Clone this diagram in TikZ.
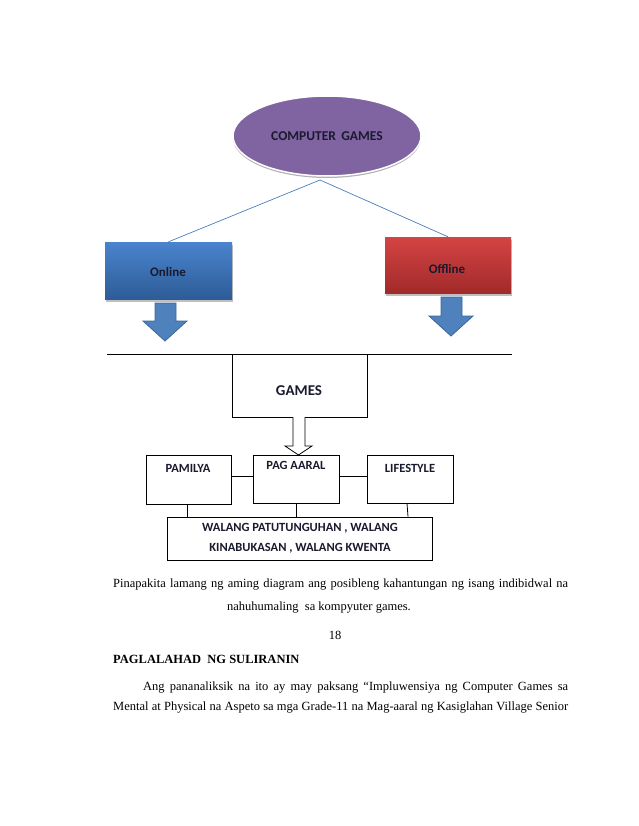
\documentclass[tikz,border=0pt]{standalone}
\usepackage{fontspec}
\setmainfont{Liberation Serif}
\newfontfamily\carl{Carlito}
\usetikzlibrary{shadows,calc,shapes.geometric}
\definecolor{cgpurple}{HTML}{8064A2}
\definecolor{ontop}{HTML}{4A84CE}
\definecolor{onbot}{HTML}{2D5C97}
\definecolor{offtop}{HTML}{D44444}
\definecolor{offbot}{HTML}{A22A2A}
\definecolor{arrfill}{HTML}{4F81BD}
\definecolor{arrline}{HTML}{3B6699}
\definecolor{linkblue}{HTML}{4A7EBB}
\definecolor{ink}{HTML}{1A1A2E}
\begin{document}
\begin{tikzpicture}[x=1pt,y=-1pt,
  lab/.style={font=\carl\bfseries\fontsize{12.5}{15}\selectfont, text=ink},
  sbox/.style={draw=black, line width=0.8pt, inner sep=0pt, fill=white},
  link/.style={draw=black, line width=0.8pt},
  bluelink/.style={draw=linkblue, line width=0.7pt},
  colbox/.style={inner sep=0pt, lab, font=\carl\bfseries\fontsize{13}{15}\selectfont,
     drop shadow={shadow xshift=0.5pt, shadow yshift=-2.5pt, opacity=0.25, fill=black}},
  downarrow/.style={fill=arrfill, draw=arrline, line width=0.8pt, line join=miter},
  body/.style={font=\fontsize{12.5}{15}\selectfont, inner sep=0pt}
]
\useasboundingbox (0,0) rectangle (638,826);

% top ellipse
\node[ellipse, minimum width=188pt, minimum height=80pt, fill=cgpurple, draw=white, line width=1.5pt,
      drop shadow={shadow xshift=0pt, shadow yshift=-2pt, opacity=0.3, fill=black},
      lab, font=\carl\bfseries\fontsize{13.5}{15}\selectfont] (cg) at (327,136) {COMPUTER\, GAMES};

% online / offline
\node[colbox, minimum width=127pt, minimum height=57pt, top color=ontop, bottom color=onbot] (online) at (168.5,270.5) {};
\node[lab, font=\carl\bfseries\fontsize{13}{15}\selectfont] (onlinetxt) at (168,272) {Online};
\node[colbox, minimum width=126pt, minimum height=56pt, top color=offtop, bottom color=offbot] (offline) at (448,265) {};
\node[lab, font=\carl\bfseries\fontsize{13}{15}\selectfont] (offlinetxt) at (447,269) {Offline};

\coordinate (cgb) at (320,180);
\draw[bluelink] (cgb) -- (online.north);
\draw[bluelink] (cgb) -- (offline.north);

% blue down arrows
\draw[downarrow] (143,321) -- (155,321) -- (155,303) -- (176,303) -- (176,321) -- (187,321) -- (165,341) -- cycle;
\draw[downarrow] (429,316) -- (441,316) -- (441,297) -- (462,297) -- (462,316) -- (473,316) -- (451,336) -- cycle;

% horizontal line
\coordinate (hl1) at (107,354);
\coordinate (hl2) at (512,354);
\draw[link] (hl1) -- (hl2);

% GAMES box
\node[sbox, minimum width=135pt, minimum height=63pt] (games) at (299.5,385.5) {};
\node[lab, font=\carl\bfseries\fontsize{15}{17}\selectfont] (gamestxt) at (299,391) {GAMES};

% hollow arrow
\draw[link, fill=white, line join=miter] (293,417) -- (293,446) -- (285,446) -- (298.5,455) -- (312,446) -- (305,446) -- (305,417);

% three boxes
\node[sbox, minimum width=85pt, minimum height=49pt] (pam) at (188.5,479.5) {};
\node[lab] (pamtxt) at (188,468) {PAMILYA};
\node[sbox, minimum width=86pt, minimum height=48pt] (pag) at (296,479) {};
\node[lab] (pagtxt) at (296,465.5) {PAG AARAL};
\node[sbox, minimum width=86pt, minimum height=48pt] (life) at (410,479) {};
\node[lab] (lifetxt) at (410,468) {LIFESTYLE};

\draw[link] ($(pam.east)+(0,-3.5)$) -- ($(pag.west)+(0,-3)$);
\draw[link] ($(pag.east)+(0,-3)$) -- ($(life.west)+(0,-3)$);

% bottom box
\node[sbox, minimum width=265pt, minimum height=43pt] (bot) at (299.5,538.5) {};
\node[lab, align=center, font=\carl\bfseries\fontsize{12.5}{20}\selectfont] (bottxt) at (300,538.5)
  {WALANG PATUTUNGUHAN , WALANG\\KINABUKASAN , WALANG KWENTA};

\coordinate (pamb) at ($(pam.south)+(-1.5,0)$);
\coordinate (lifeb) at ($(life.south)+(-3,0)$);
\coordinate (lifec) at ($(life.south)+(-2,0)$);
\draw[link] (pamb) -- (pamb |- bot.north);
\draw[link] (pag.south) -- (pag.south |- bot.north);
\draw[link] (lifeb) -- (lifec |- bot.north);

% body text
\node[body, anchor=base west] (p1) at (113,587)
  {\makebox[455pt][s]{Pinapakita lamang ng aming diagram ang posibleng kahantungan ng isang indibidwal na}};
\node[body, anchor=base] (p2) at (319,610) {nahuhumaling\ \ sa kompyuter games.};
\node[body, anchor=base] (pnum) at (335,639) {18};
\node[body, anchor=base west, font=\bfseries\fontsize{12.5}{15}\selectfont] (head) at (113,663) {PAGLALAHAD\ \ NG SULIRANIN};
\node[body, anchor=base west] (p3) at (143,690)
  {\makebox[425pt][s]{Ang pananaliksik na ito ay may paksang “Impluwensiya ng Computer Games sa}};
\node[body, anchor=base west] (p4) at (113,710)
  {\makebox[455pt][s]{Mental at Physical na Aspeto sa mga Grade-11 na Mag-aaral ng Kasiglahan Village Senior}};
\end{tikzpicture}
\end{document}
